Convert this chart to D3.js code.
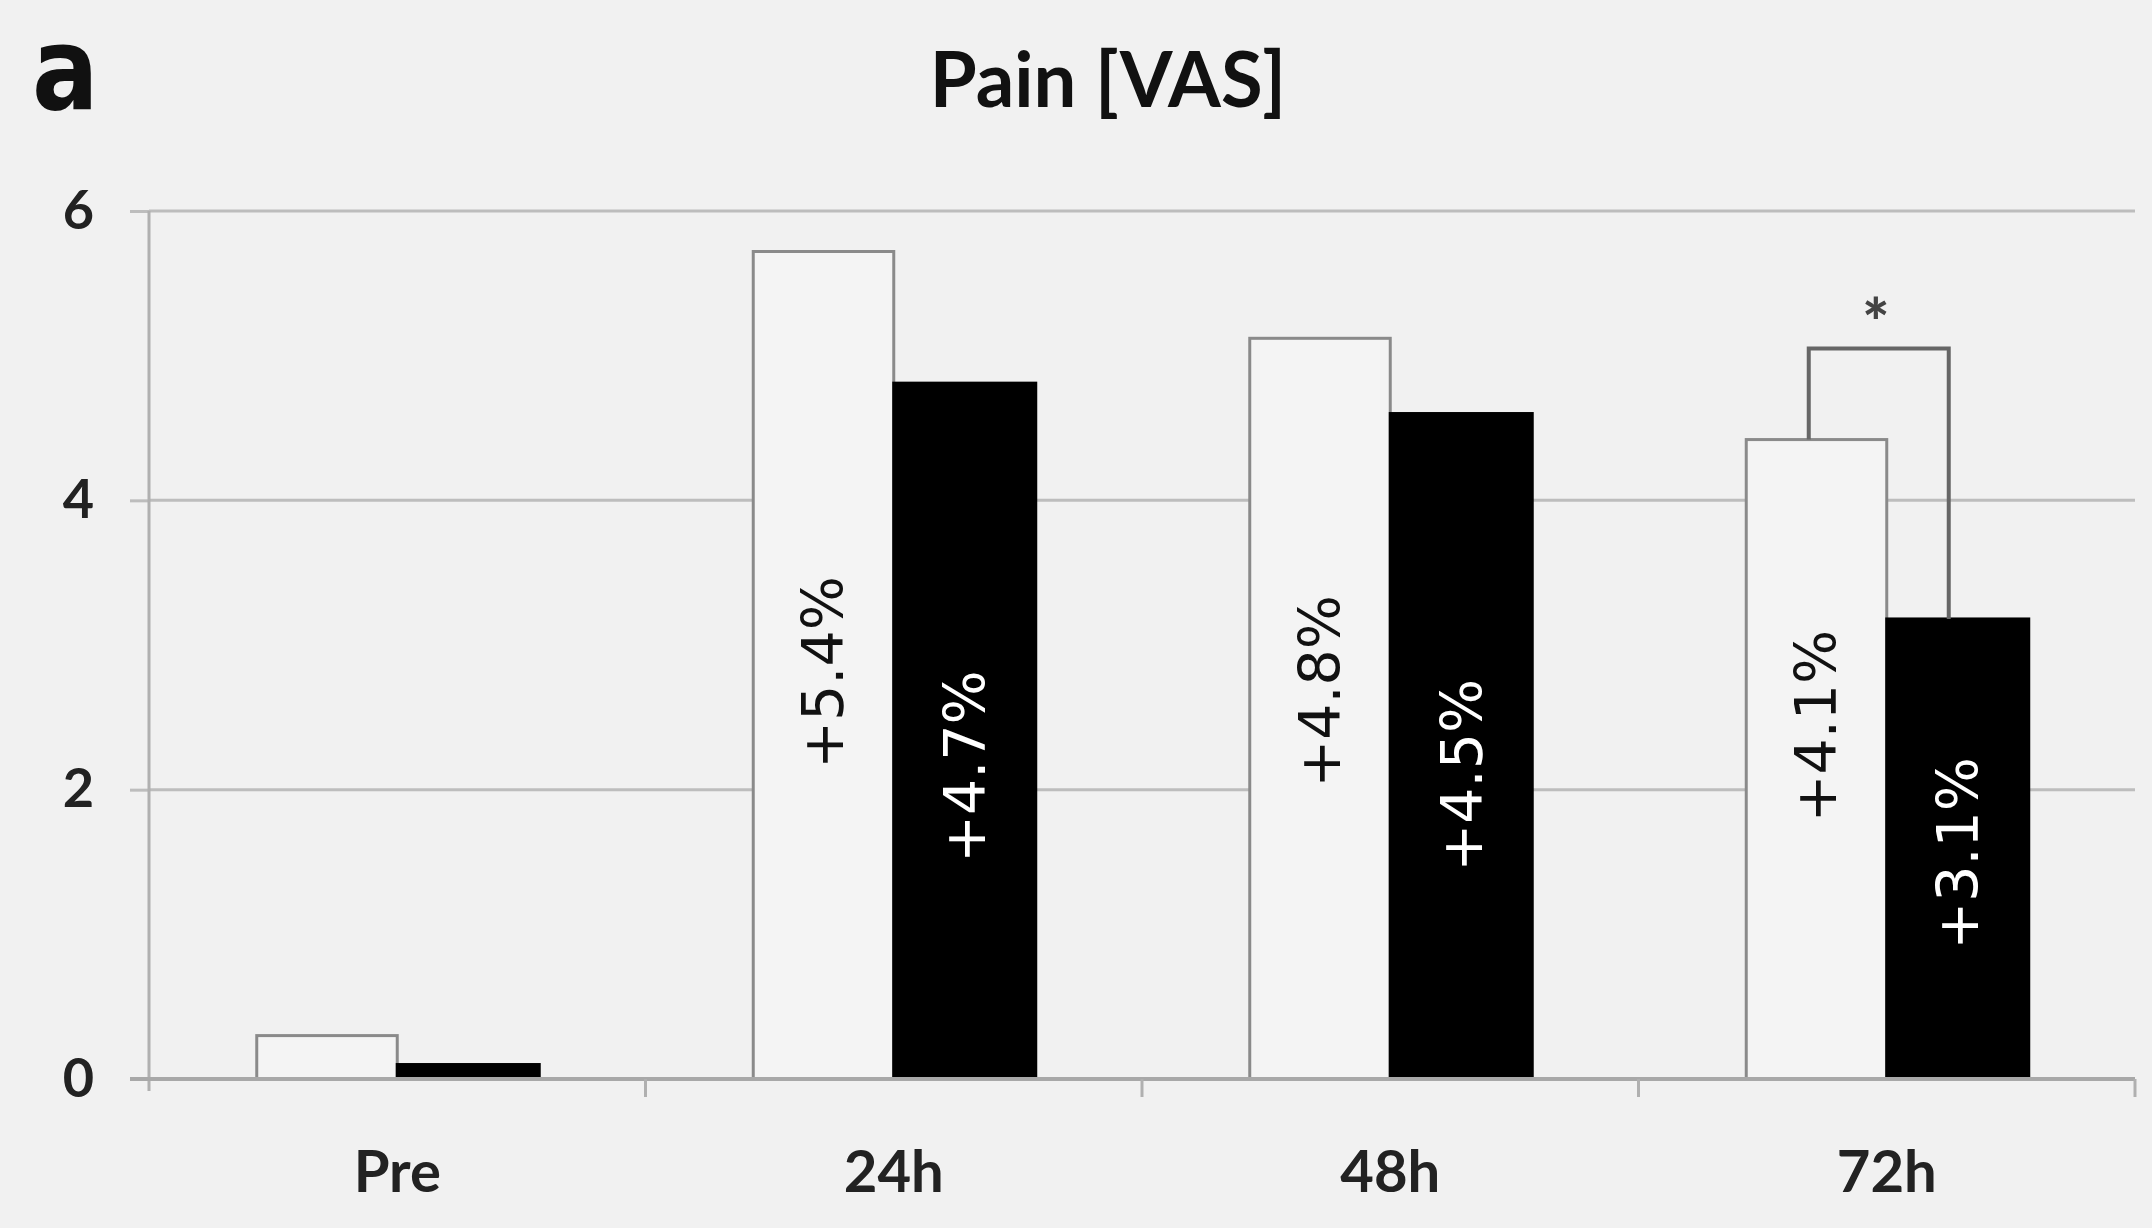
<!DOCTYPE html>
<html>
<head>
<meta charset="utf-8">
<script src="https://cdn.jsdelivr.net/npm/d3@7"></script>
<style>
  html, body { margin: 0; padding: 0; background: #f1f1f1; }
  svg { display: block; }
</style>
</head>
<body>
<svg id="chart" width="2152" height="1228"></svg>
<script>
// ---- data ----
const categories = ["Pre", "24h", "48h", "72h"];
const groups = ["control", "treated"];
const controlValues = [0.30, 5.72, 5.12, 4.42];
const treatedValues = [0.10, 4.81, 4.60, 3.18];
const controlLabels = [null, "+5.4%", "+4.8%", "+4.1%"];
const treatedLabels = [null, "+4.7%", "+4.5%", "+3.1%"];
const controlLabelAt = [null, 2.81, 2.68, 2.44];
const treatedLabelAt = [null, 2.16, 2.10, 1.56];
const yTicks = [0, 2, 4, 6];
const sigCategory = "72h";
const sigTop = 5.05;
const sigText = "*";
const titleText = "Pain [VAS]";
const panelLetter = "a";

// ---- layout ----
const plotLeft = 149, plotRight = 2135, plotTop = 211, plotBottom = 1079;
const svg = d3.select("#chart");
svg.append("rect").attr("width", 2152).attr("height", 1228).attr("fill", "#f1f1f1");

const x = d3.scaleBand().domain(categories).range([plotLeft, plotRight])
  .paddingInner(0.428).paddingOuter(0.214);
const xs = d3.scaleBand().domain(groups).range([0, x.bandwidth()]);
const y = d3.scaleLinear().domain([0, 6]).range([plotBottom, plotTop]);

// gridlines
svg.append("g").selectAll("line").data(yTicks.filter(d => d > 0)).join("line")
  .attr("x1", plotLeft).attr("x2", plotRight)
  .attr("y1", d => y(d)).attr("y2", d => y(d))
  .attr("stroke", "#bdbdbd").attr("stroke-width", 3);

// y axis
const yAxis = svg.append("g").attr("transform", `translate(${plotLeft},0)`)
  .call(d3.axisLeft(y).tickValues(yTicks).tickFormat(d3.format("d")).tickSize(19).tickPadding(36));
yAxis.select(".domain").remove();
yAxis.selectAll(".tick line").attr("stroke", "#bdbdbd").attr("stroke-width", 3);
yAxis.selectAll(".tick text").attr("font-family", "Lato").attr("font-weight", 700)
  .attr("font-size", 54).attr("fill", "#222");
svg.append("line").attr("x1", plotLeft).attr("x2", plotLeft)
  .attr("y1", plotTop).attr("y2", plotBottom + 12)
  .attr("stroke", "#b0b0b0").attr("stroke-width", 3);

// bars
const rows = categories.map((c, i) => ({
  cat: c,
  items: [
    { g: "control", v: controlValues[i], label: controlLabels[i], at: controlLabelAt[i] },
    { g: "treated", v: treatedValues[i], label: treatedLabels[i], at: treatedLabelAt[i] }
  ]
}));
const grp = svg.append("g").selectAll("g").data(rows).join("g")
  .attr("transform", d => `translate(${x(d.cat)},0)`);
grp.selectAll("rect").data(d => d.items).join("rect")
  .attr("x", d => xs(d.g) + (d.g === "control" ? 1.5 : 0))
  .attr("width", d => xs.bandwidth() - (d.g === "control" ? 1.5 : 0))
  .attr("y", d => y(d.v))
  .attr("height", d => y(0) - y(d.v))
  .attr("fill", d => d.g === "control" ? "#f4f4f4" : "#000")
  .attr("stroke", d => d.g === "control" ? "#8a8a8a" : "#000")
  .attr("stroke-width", 3);
grp.selectAll("text.val").data(d => d.items.filter(e => e.label)).join("text")
  .attr("class", "val")
  .attr("transform", d => `translate(${xs(d.g) + xs.bandwidth() / 2},${y(d.at)}) rotate(-90)`)
  .attr("text-anchor", "middle").attr("dy", "0.36em")
  .attr("font-family", "DejaVu Sans").attr("font-size", 57)
  .attr("fill", d => d.g === "control" ? "#111" : "#fff")
  .text(d => d.label);

// x axis line
svg.append("line").attr("x1", plotLeft - 19).attr("x2", plotRight)
  .attr("y1", plotBottom).attr("y2", plotBottom)
  .attr("stroke", "#a8a8a8").attr("stroke-width", 4);
// boundary ticks
const boundaries = d3.range(categories.length + 1).map(i => plotLeft + i * x.step());
svg.append("g").selectAll("line").data(boundaries.slice(1)).join("line")
  .attr("x1", d => d).attr("x2", d => d)
  .attr("y1", plotBottom).attr("y2", plotBottom + 18)
  .attr("stroke", "#b0b0b0").attr("stroke-width", 3);

// x labels
const xAxis = svg.append("g").attr("transform", `translate(0,${plotBottom})`)
  .call(d3.axisBottom(x).tickSize(0).tickPadding(72));
xAxis.select(".domain").remove();
xAxis.selectAll(".tick text").attr("font-family", "Lato").attr("font-weight", 700)
  .attr("font-size", 58).attr("fill", "#222");

// significance bracket
const cx0 = x(sigCategory) + xs("control") + xs.bandwidth() / 2 - 7;
const cx1 = x(sigCategory) + xs("treated") + xs.bandwidth() / 2 - 9;
const iSig = categories.indexOf(sigCategory);
svg.append("path")
  .attr("d", `M${cx0},${y(controlValues[iSig])}V${y(sigTop)}H${cx1}V${y(treatedValues[iSig])}`)
  .attr("fill", "none").attr("stroke", "#666").attr("stroke-width", 4);
svg.append("text").attr("x", (cx0 + cx1) / 2 - 3).attr("y", y(sigTop) - 2)
  .attr("text-anchor", "middle").attr("font-family", "Lato").attr("font-weight", 900)
  .attr("font-size", 64).attr("fill", "#444").text(sigText);

// title and panel letter
svg.append("text").attr("x", 1108).attr("y", 107).attr("text-anchor", "middle")
  .attr("font-family", "Lato").attr("font-weight", 700).attr("font-size", 76)
  .attr("fill", "#111").text(titleText);
svg.append("text").attr("transform", "translate(32,109) scale(0.85,1)")
  .attr("font-family", "DejaVu Sans").attr("font-weight", 700).attr("font-size", 116)
  .attr("fill", "#111").text(panelLetter);
</script>
</body>
</html>
